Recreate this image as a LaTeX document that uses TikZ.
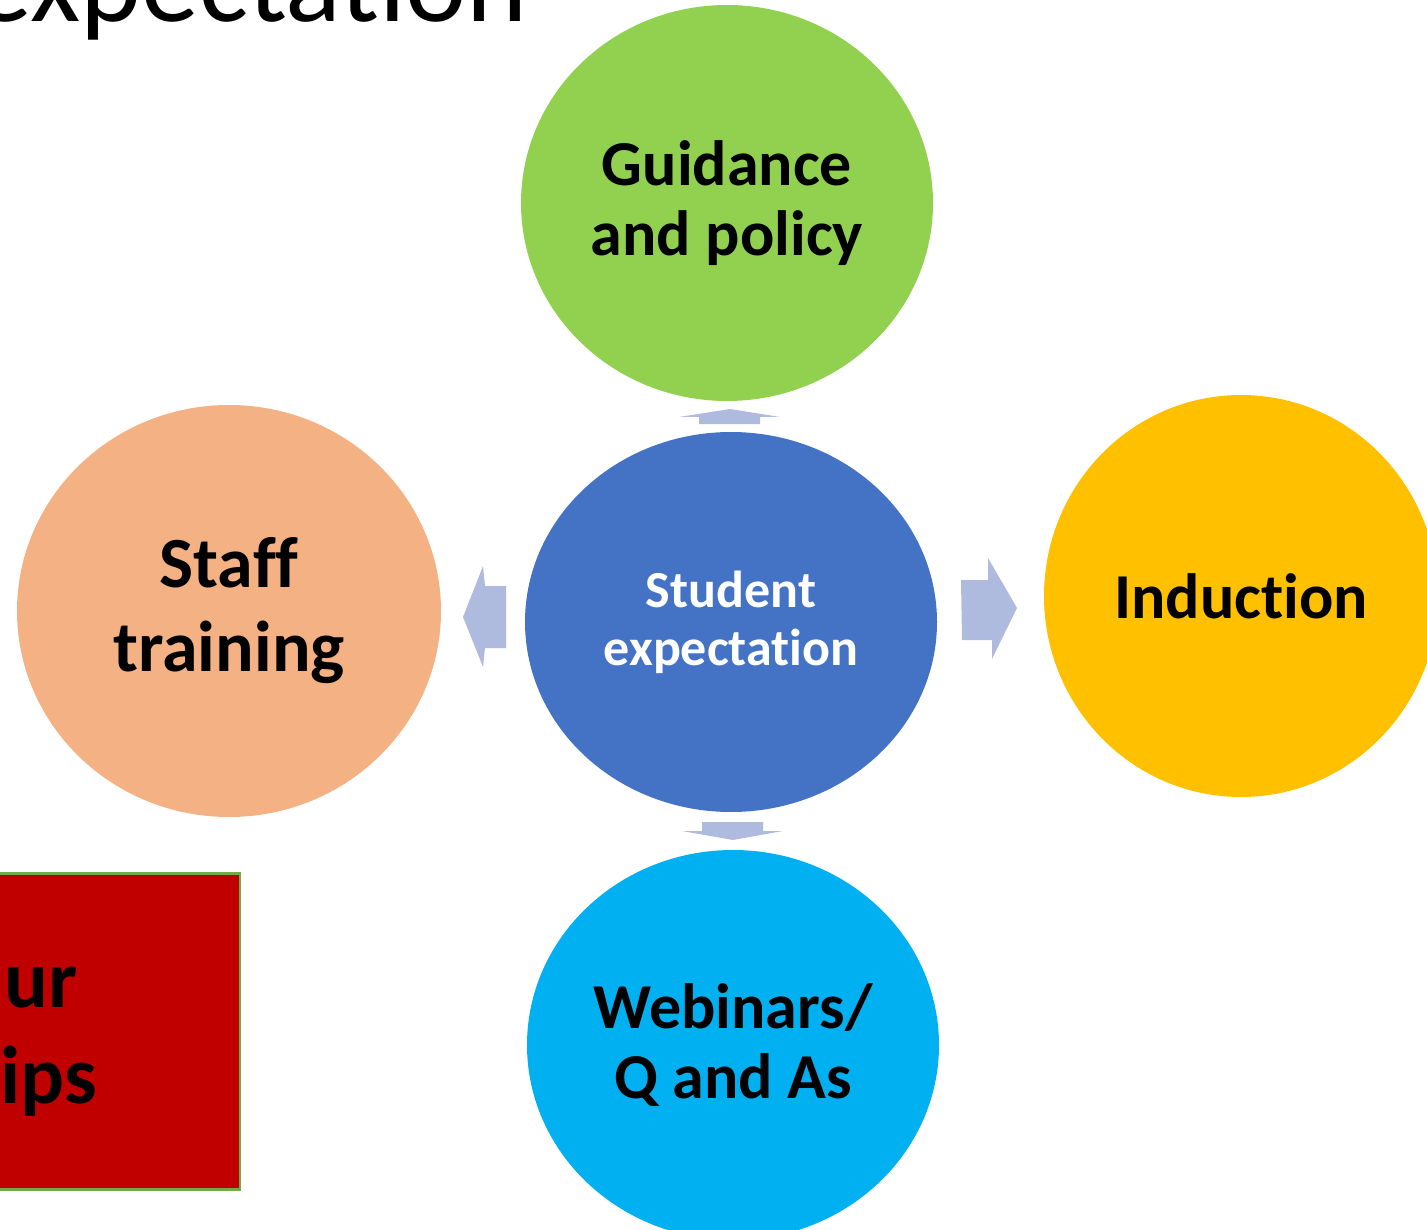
\documentclass[tikz,border=0pt]{standalone}
\usepackage{fontspec}
\setmainfont{Carlito}[Ligatures={NoCommon}]
\usetikzlibrary{shapes.geometric}
\definecolor{cgreen}{HTML}{92D050}
\definecolor{cblue}{HTML}{4472C4}
\definecolor{cpeach}{HTML}{F4B183}
\definecolor{cgold}{HTML}{FFC000}
\definecolor{csky}{HTML}{00B0F0}
\definecolor{carrow}{RGB}{175,187,222}
\definecolor{cred}{HTML}{C00000}
\definecolor{cedge}{HTML}{70AD47}
\begin{document}
\begin{tikzpicture}[x=1pt,y=-1pt,
  bubble/.style={ellipse, inner sep=0pt, align=center, text=black,
    font=\bfseries\fontsize{64}{70}\selectfont},
  flatarrow/.style={fill=carrow, draw=none}]
\useasboundingbox (0,0) rectangle (1427,1230);
\clip (0,0) rectangle (1427,1230);
% title
\node[anchor=base west, inner sep=0pt, font=\fontsize{116}{120}\selectfont] (title) at (-26,22) {expectation};
% bubbles
\node[bubble, fill=cgreen, minimum width=412pt, minimum height=396pt] (guid) at (727,203) {Guidance\\and policy};
\node[bubble, fill=cblue, minimum width=412pt, minimum height=380pt, text=white,
  font=\bfseries\fontsize{52}{58}\selectfont] (stud) at (731,622) {Student\\expectation};
\node[bubble, fill=cpeach, minimum width=424pt, minimum height=412pt,
  font=\bfseries\fontsize{72}{84}\selectfont] (staff) at (229,611) {Staff\\training};
\node[bubble, fill=cgold, minimum width=394pt, minimum height=402pt] (ind) at (1241,596) {Induction};
\node[bubble, fill=csky, minimum width=412pt, minimum height=390pt] (web) at (733,1045) {Webinars/\\Q and As};
% arrows
\fill[flatarrow] (699,424) -- (699,417) -- (679,417) -- (730,409) -- (780,417) -- (760,417) -- (760,424) -- cycle;
\fill[flatarrow] (702,822) -- (763,822) -- (763,831) -- (783,831) -- (733,840) -- (682,831) -- (702,831) -- cycle;
\fill[flatarrow] (506,586) -- (485,586) -- (483,566) -- (463,617) -- (483,667) -- (485,648) -- (506,648) -- cycle;
\fill[flatarrow] (961,580) -- (988,580) -- (988,558) -- (1017,608) -- (992,659) -- (992,640) -- (962,640) -- cycle;
% red box
\node[rectangle, draw=cedge, line width=2.5pt, fill=cred, minimum width=260pt, minimum height=316pt, anchor=north east, inner sep=0pt] (box) at (241,872) {};
\node[anchor=base east, inner sep=0pt, font=\bfseries\fontsize{82}{100}\selectfont] (ur) at (78,1007) {ur};
\node[anchor=base east, inner sep=0pt, font=\bfseries\fontsize{82}{100}\selectfont] (ips) at (97,1103) {ips};
\end{tikzpicture}
\end{document}
